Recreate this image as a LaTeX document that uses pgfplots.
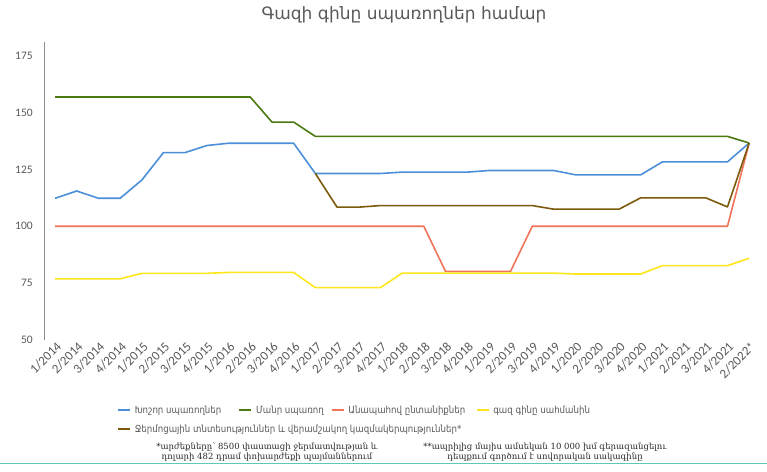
\documentclass[border=0pt]{standalone}
\usepackage{pgfplots}
\pgfplotsset{compat=1.18}
\usepackage{fontspec}
\setmainfont{Carlito}
\newfontfamily\armsans{DejaVu Sans}
\newfontfamily\armlegend[FakeStretch=0.88]{DejaVu Sans}
\newfontfamily\armserif{DejaVu Serif}
\definecolor{cblue}{HTML}{4A8FD8}
\definecolor{cgreen}{HTML}{4A7A10}
\definecolor{cred}{HTML}{F0735A}
\definecolor{cyellow}{HTML}{FFE61A}
\definecolor{cbrown}{HTML}{7B5A0C}
\definecolor{tickgray}{HTML}{595959}
\definecolor{titlegray}{HTML}{595959}
\definecolor{axisgray}{HTML}{8C8C8C}
\definecolor{tealline}{HTML}{5CC8B8}
\begin{document}
\begin{tikzpicture}
\path[use as bounding box] (0,0) rectangle (767pt,471pt);
\begin{axis}[
  at={(44.2pt,131pt)}, anchor=south west,
  scale only axis, width=715.8pt, height=298pt,
  xmin=-0.5, xmax=32.5, ymin=50, ymax=181,
  axis y line*=left, axis x line*=bottom,
  x axis line style={draw=none},
  y axis line style={draw=axisgray, line width=1pt},
  major tick length=0pt,
  ytick={50,75,100,125,150,175},
  xtick={0,...,32},
  xticklabels={1/2014,2/2014,3/2014,4/2014,1/2015,2/2015,3/2015,4/2015,1/2016,2/2016,3/2016,4/2016,1/2017,2/2017,3/2017,4/2017,1/2018,2/2018,3/2018,4/2018,1/2019,2/2019,3/2019,4/2019,1/2020,2/2020,3/2020,4/2020,1/2021,2/2021,3/2021,4/2021,2/2022*},
  /pgf/number format/assume math mode=true,
  yticklabel style={font=\fontsize{11.5}{12}\selectfont, text=tickgray, xshift=-8pt},
  xticklabel style={rotate=45, anchor=east, font=\fontsize{13}{14}\selectfont, text=tickgray, yshift=-6pt, xshift=3pt},
  legend columns=4,
  legend style={at={(0.1017,-0.2148)}, anchor=north west, draw=none, fill=none, inner sep=0pt,
    font=\armlegend\fontsize{9.8}{12}\selectfont, text=tickgray,
    nodes={inner sep=0pt, text height=9pt, text depth=3pt},
    row sep=7pt,
    /tikz/every odd column/.append style={column sep=4pt},
    /tikz/every even column/.append style={column sep=0pt}},
  legend cell align=left,
  legend image code/.code={\draw[#1, line width=1.6pt] (0pt,0pt) -- (12pt,0pt);},
  every axis plot/.append style={line width=1.6pt, line join=round, mark=none},
]
\addplot[cblue] coordinates {(0,112.3)(1,115.5)(2,112.3)(3,112.3)(4,120.3)(5,132.4)(6,132.4)(7,135.5)(8,136.5)(9,136.5)(10,136.5)(11,136.5)(12,123.2)(13,123.2)(14,123.2)(15,123.2)(16,123.8)(17,123.8)(18,123.8)(19,123.8)(20,124.5)(21,124.5)(22,124.5)(23,124.5)(24,122.6)(25,122.6)(26,122.6)(27,122.6)(28,128.3)(29,128.3)(30,128.3)(31,128.3)(32,136.6)};
\addlegendentry{\makebox[103.7pt][l]{Խոշոր սպառողներ}}
\addplot[cgreen] coordinates {(0,156.8)(1,156.8)(2,156.8)(3,156.8)(4,156.8)(5,156.8)(6,156.8)(7,156.8)(8,156.8)(9,156.8)(10,145.8)(11,145.8)(12,139.5)(13,139.5)(14,139.5)(15,139.5)(16,139.5)(17,139.5)(18,139.5)(19,139.5)(20,139.5)(21,139.5)(22,139.5)(23,139.5)(24,139.5)(25,139.5)(26,139.5)(27,139.5)(28,139.5)(29,139.5)(30,139.5)(31,139.5)(32,136.6)};
\addlegendentry{\makebox[74.7pt][l]{Մանր սպառող}}
\addplot[cred] coordinates {(0,100)(1,100)(2,100)(3,100)(4,100)(5,100)(6,100)(7,100)(8,100)(9,100)(10,100)(11,100)(12,100)(13,100)(14,100)(15,100)(16,100)(17,100)(18,80.2)(19,80.2)(20,80.2)(21,80.2)(22,100)(23,100)(24,100)(25,100)(26,100)(27,100)(28,100)(29,100)(30,100)(31,100)(32,136.6)};
\addlegendentry{\makebox[127.3pt][l]{Անապահով ընտանիքներ}}
\addplot[cyellow] coordinates {(0,76.9)(1,76.9)(2,76.9)(3,76.9)(4,79.3)(5,79.3)(6,79.3)(7,79.3)(8,79.7)(9,79.7)(10,79.7)(11,79.7)(12,73.0)(13,73.0)(14,73.0)(15,73.0)(16,79.4)(17,79.4)(18,79.4)(19,79.4)(20,79.4)(21,79.4)(22,79.4)(23,79.4)(24,79.0)(25,79.0)(26,79.0)(27,79.0)(28,82.7)(29,82.7)(30,82.7)(31,82.7)(32,85.9)};
\addlegendentry{\makebox[97pt][l]{գազ գինը սահմանին}}
\addplot[cbrown] coordinates {(12,123.2)(13,108.4)(14,108.4)(15,109.1)(16,109.1)(17,109.1)(18,109.1)(19,109.1)(20,109.1)(21,109.1)(22,109.1)(23,107.5)(24,107.5)(25,107.5)(26,107.5)(27,112.5)(28,112.5)(29,112.5)(30,112.5)(31,108.5)(32,136.6)};
\addlegendentry{\makebox[103.7pt][l]{Ջերմոցային տնտեսություններ և վերամշակող կազմակերպություններ*}}
\end{axis}
\node[font=\armsans\fontsize{17}{20}\selectfont, text=titlegray] at (404pt,456.5pt) {Գազի գինը սպառողներ համար};
\node[align=center, font=\armserif\fontsize{8.5}{8}\selectfont, text=black!85, inner sep=0pt] at (267pt,19pt) {*արժեքները՝ 8500 փաստացի ջերմատվության և\\դոլարի 482 դրամ փոխարժեքի պայմաններում};
\node[align=center, font=\armserif\fontsize{8.5}{8}\selectfont, text=black!85, inner sep=0pt] at (545pt,19pt) {**ապրիլից մայիս ամսեկան 10 000 խմ գերազանցելու\\դեպքում գործում է սովորական սակագինը};
\draw[tealline, line width=1.5pt] (0pt,7.7pt) -- (767pt,7.7pt);
\end{tikzpicture}
\end{document}
